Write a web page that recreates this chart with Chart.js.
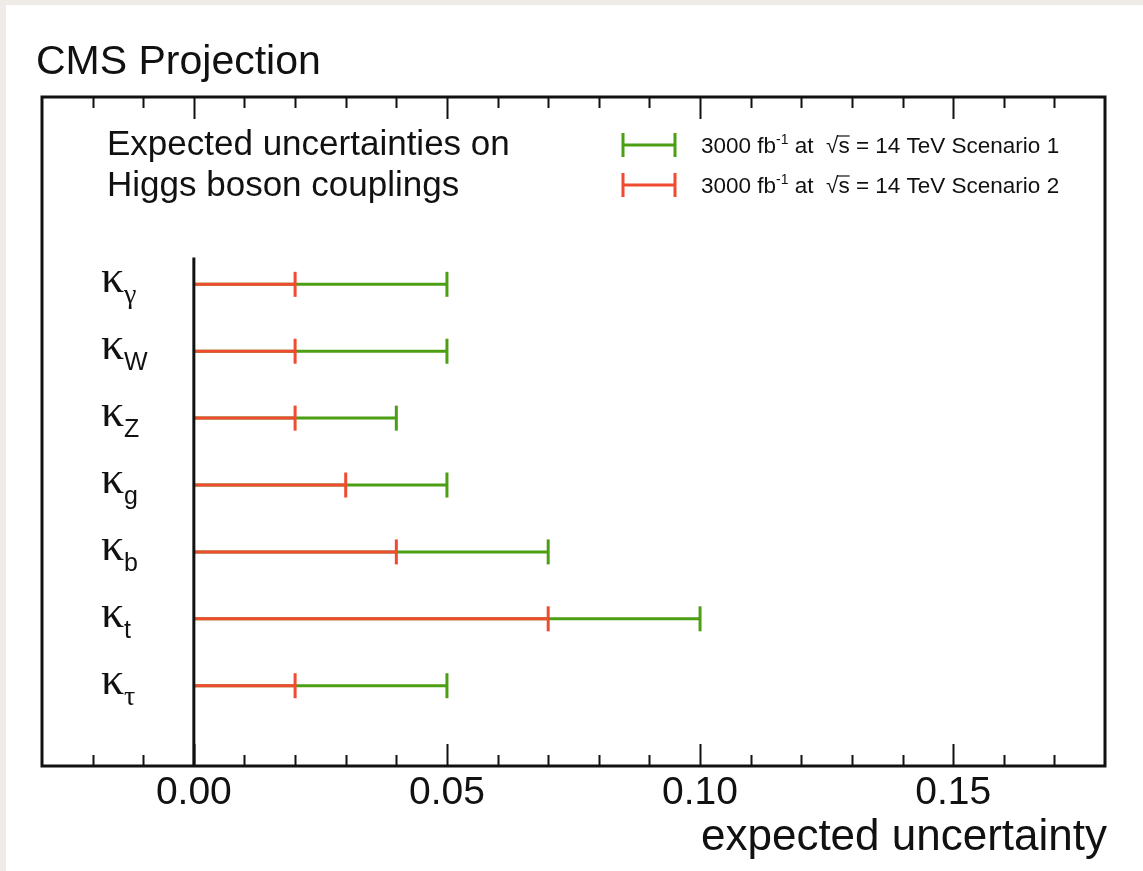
<!DOCTYPE html>
<html>
<head>
<meta charset="utf-8">
<title>CMS Projection - Higgs couplings</title>
<script src="https://cdn.jsdelivr.net/npm/chart.js@4/dist/chart.umd.min.js"></script>
<style>
  html, body { margin: 0; padding: 0; }
  body { background: #efece8; width: 1143px; height: 871px; position: relative; overflow: hidden; }
  #card { position: absolute; left: 6px; top: 5px; right: 0; bottom: 0; background: #fff; }
  #wrap { position: absolute; left: 0; top: 0; width: 1143px; height: 871px; }
</style>
</head>
<body>
<div id="card"></div>
<div id="wrap"><canvas id="chart" width="1143" height="871"></canvas></div>
<script>
// couplings, top to bottom
const couplings = [
  { sym: 'γ', greek: true },
  { sym: 'W', greek: false },
  { sym: 'Z', greek: false },
  { sym: 'g', greek: false },
  { sym: 'b', greek: false },
  { sym: 't', greek: false },
  { sym: 'τ', greek: true }
];
const scenario1 = [0.05, 0.05, 0.04, 0.05, 0.07, 0.10, 0.05];
const scenario2 = [0.02, 0.02, 0.02, 0.03, 0.04, 0.07, 0.02];
const seriesLabels = ['Scenario 1', 'Scenario 2'];
const tickValues = [0.00, 0.05, 0.10, 0.15];
const tickLabels = ['0.00', '0.05', '0.10', '0.15'];

const GREEN = '#4c9e12';
const RED = '#f04a30';
const INK = '#111';

// row n (from the top) sits at y = count - n
const rowPos = i => couplings.length - i;

function barDatasets(values, color, order) {
  return values.map((v, i) => ({
    data: [{ x: 0, y: rowPos(i) }, { x: v, y: rowPos(i) }],
    showLine: true,
    borderColor: color,
    borderWidth: 3,
    pointStyle: 'line',
    rotation: 90,
    pointRadius: ctx => ctx.dataIndex === 1 ? 12.5 : 0,
    pointHoverRadius: ctx => ctx.dataIndex === 1 ? 12.5 : 0,
    pointBorderWidth: 3,
    pointBorderColor: color,
    pointBackgroundColor: color,
    order: order
  }));
}

const framePlugin = {
  id: 'frame',
  afterDraw(chart) {
    const { ctx, chartArea: a, scales: { x, y } } = chart;
    ctx.save();

    // zero line
    ctx.strokeStyle = INK;
    ctx.lineWidth = 3;
    ctx.beginPath();
    ctx.moveTo(x.getPixelForValue(0), y.getPixelForValue(7.4));
    ctx.lineTo(x.getPixelForValue(0), a.bottom);
    ctx.stroke();

    // frame
    ctx.lineWidth = 3;
    ctx.strokeRect(a.left, a.top, a.right - a.left, a.bottom - a.top);

    // inward ticks on bottom and top
    ctx.lineWidth = 2;
    for (let k = -2; k <= 17; k++) {
      const px = Math.round(x.getPixelForValue(k / 100)) + 0.5;
      const len = k % 5 === 0 ? 22 : 11;
      ctx.beginPath();
      ctx.moveTo(px, a.bottom);
      ctx.lineTo(px, a.bottom - len);
      ctx.moveTo(px, a.top);
      ctx.lineTo(px, a.top + len);
      ctx.stroke();
    }

    ctx.fillStyle = INK;
    ctx.textBaseline = 'alphabetic';

    // tick labels
    ctx.font = '39px "Liberation Sans", Arial, sans-serif';
    ctx.textAlign = 'center';
    tickValues.forEach((v, i) => ctx.fillText(tickLabels[i], x.getPixelForValue(v), 804));

    // axis title
    ctx.font = '44px "Liberation Sans", Arial, sans-serif';
    ctx.textAlign = 'right';
    ctx.fillText('expected uncertainty', a.right + 2, 850);

    // heading
    ctx.textAlign = 'left';
    ctx.font = '41px "Liberation Sans", Arial, sans-serif';
    ctx.fillText('CMS Projection', 36, 74);

    ctx.font = '35px "Liberation Sans", Arial, sans-serif';
    ctx.fillText('Expected uncertainties on', 107, 155);
    ctx.fillText('Higgs boson couplings', 107, 196);

    // kappa row labels
    couplings.forEach((c, i) => {
      const py = y.getPixelForValue(rowPos(i));
      ctx.font = '46px "Liberation Serif", "Times New Roman", serif';
      ctx.fillText('κ', 101, py + 8);
      ctx.font = c.greek ? '28px "Liberation Serif", serif' : '25px "Liberation Sans", Arial, sans-serif';
      ctx.fillText(c.sym, 124, py + 19);
    });

    // legend
    const legendRows = [
      { color: GREEN, y: 145, label: seriesLabels[0] },
      { color: RED, y: 185, label: seriesLabels[1] }
    ];
    legendRows.forEach(r => {
      ctx.strokeStyle = r.color;
      ctx.lineWidth = 3;
      ctx.beginPath();
      ctx.moveTo(623, r.y);
      ctx.lineTo(675, r.y);
      ctx.moveTo(623, r.y - 12);
      ctx.lineTo(623, r.y + 12);
      ctx.moveTo(675, r.y - 12);
      ctx.lineTo(675, r.y + 12);
      ctx.stroke();

      const base = r.y + 8;
      let tx = 701;
      const put = (txt, font, dy) => {
        ctx.font = font;
        ctx.fillText(txt, tx, base + (dy || 0));
        tx += ctx.measureText(txt).width;
      };
      const f = '22.5px "Liberation Sans", Arial, sans-serif';
      put('3000 fb', f);
      put('-1', '14px "Liberation Sans", Arial, sans-serif', -9);
      put(' at  ', f);
      put('√', f);
      const sx = tx;
      put('s', f);
      ctx.strokeStyle = INK;
      ctx.lineWidth = 1.2;
      ctx.beginPath();
      ctx.moveTo(sx - 1, base - 17);
      ctx.lineTo(tx, base - 17);
      ctx.stroke();
      put(' = 14 TeV ' + r.label, f);
    });

    ctx.restore();
  }
};

new Chart(document.getElementById('chart'), {
  type: 'scatter',
  data: {
    datasets: [
      ...barDatasets(scenario1, GREEN, 2),
      ...barDatasets(scenario2, RED, 1)
    ]
  },
  options: {
    responsive: false,
    animation: false,
    maintainAspectRatio: false,
    layout: { padding: { left: 42, top: 97, right: 38, bottom: 105 } },
    scales: {
      x: { type: 'linear', min: -0.03, max: 0.18, display: false },
      y: { type: 'linear', min: -0.2, max: 9.8, display: false }
    },
    plugins: {
      legend: { display: false },
      tooltip: { enabled: false }
    },
    events: []
  },
  plugins: [framePlugin]
});
</script>
</body>
</html>
